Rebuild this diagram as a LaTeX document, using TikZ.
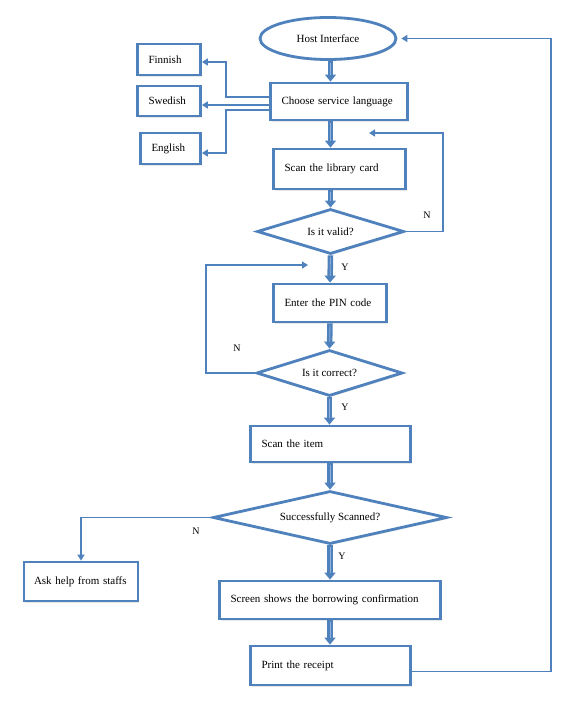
\documentclass[tikz,border=0pt]{standalone}
\usepackage{fontspec}
\setmainfont{Liberation Serif}
\usetikzlibrary{shapes.geometric,arrows.meta,shadows,calc}
\definecolor{bl}{HTML}{4F81BD}
\definecolor{bllight}{HTML}{8FB0DA}
\begin{document}
\begin{tikzpicture}[x=1pt,y=-1pt,
  font=\fontsize{11}{13}\selectfont,
  shade/.style={drop shadow={opacity=0.18,shadow xshift=1.2pt,shadow yshift=-1.6pt}},
  box/.style={draw=bl,line width=2.8pt,fill=white,shade,rectangle,inner xsep=11pt,inner ysep=0pt,align=left},
  dec/.style={draw=bl,line width=2.8pt,fill=white,shade,diamond,inner sep=0pt,align=center},
  term/.style={draw=bl,line width=2.8pt,fill=white,shade,ellipse,inner sep=0pt},
  flow/.style={draw=bl,line width=5.5pt,-{Triangle[width=11pt,length=7pt]},
    postaction={draw=bllight,line width=0.8pt,shorten >=7pt,shorten <=2pt,-}},
  conn/.style={draw=bl,line width=1.8pt,-{Triangle[width=7pt,length=6pt]}},
  lbl/.style={font=\fontsize{10}{12}\selectfont,inner sep=0pt}]
\useasboundingbox (0,0) rectangle (577,703);

% nodes
\node[term,minimum width=136pt,minimum height=42pt] (host) at (328,38.5) {Host Interface};
\node[box,text width=115pt,minimum height=37pt] (choose) at (339,101.5) {Choose service language};
\node[box,text width=110pt,minimum height=40pt] (scancard) at (339.5,169) {Scan the library card};
\node[dec,aspect=3.27,minimum width=147pt,minimum height=45pt] (valid) at (330.5,231.5) {Is it valid?};
\node[box,text width=91pt,minimum height=38pt] (pin) at (330,303) {Enter the PIN code};
\node[dec,aspect=3.17,minimum width=146pt,minimum height=46pt] (correct) at (329.5,373) {Is it correct?};
\node[box,text width=138pt,minimum height=36pt] (scanitem) at (330.5,444) {Scan the item};
\node[dec,aspect=4.4,minimum width=234pt,minimum height=53pt] (success) at (330,517.5) {Successfully Scanned?};
\node[box,text width=102pt,minimum height=39pt,inner xsep=6pt] (ask) at (81,581.5) {\hspace*{4pt}Ask help from staffs};
\node[box,text width=199pt,minimum height=38pt] (screen) at (330,600) {Screen shows the borrowing confirmation};
\node[box,text width=138pt,minimum height=39pt] (receipt) at (330.5,665.5) {Print the receipt};
\node[box,text width=41pt,minimum height=31pt] (finnish) at (169,59.5) {Finnish};
\node[box,text width=41pt,minimum height=30pt] (swedish) at (169,101) {Swedish};
\node[box,text width=38pt,minimum height=31pt] (english) at (170.5,148.5) {English};

% helper coordinates
\coordinate (fturn) at (226,62);
\coordinate (eturn) at (226,153);
\coordinate (vturn) at (443,133);
\coordinate (vend) at (369,133);
\coordinate (cturn) at (206,265);
\coordinate (cend) at (308,265);
\coordinate (ret) at (551,38.5);

% main flow
\draw[flow] (host.south -| valid.north) -- (choose.north -| valid.north);
\draw[flow] (choose.south -| valid.north) -- (scancard.north -| valid.north);
\draw[flow] (scancard.south -| valid.north) -- (valid.north);
\draw[flow] (valid.south) -- (pin.north);
\draw[flow] (pin.south) -- (correct.north);
\draw[flow] (correct.south) -- (correct.south |- scanitem.north);
\draw[flow] (scanitem.south -| success.north) -- (success.north);
\draw[flow] (success.south) -- (screen.north);
\draw[flow] (screen.south) -- (screen.south |- receipt.north);

% language branches
\draw[conn] ([yshift=4.5pt]choose.west) -| (fturn) -- (fturn -| finnish.east);
\draw[conn] ([yshift=-3.5pt]choose.west) -- ([yshift=-3.5pt]choose.west -| swedish.east);
\draw[conn] ([yshift=-8.5pt]choose.west) -| (eturn) -- (eturn -| english.east);

% loops
\draw[conn] (valid.east) -| (vturn) -- (vend);
\draw[conn] (correct.west) -| (cturn) -- (cend);
\draw[conn] (success.west) -| (ask.north);
\draw[conn,shorten >=4pt] ([yshift=-6pt]receipt.east) -| (ret) -- (host.east);

% labels
\node[lbl] (n1) at (427,215) {N};
\node[lbl] (y1) at (345,267) {Y};
\node[lbl] (n2) at (237,348) {N};
\node[lbl] (y2) at (345,407) {Y};
\node[lbl] (n3) at (196,531) {N};
\node[lbl] (y3) at (342,556) {Y};
\end{tikzpicture}
\end{document}
